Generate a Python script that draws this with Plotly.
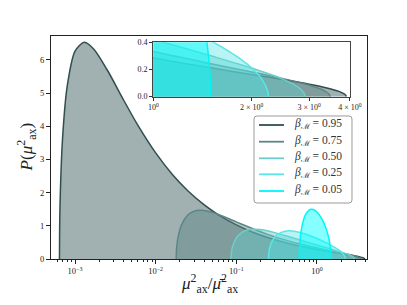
import plotly.graph_objects as go

betas = [0.95, 0.75, 0.50, 0.25, 0.05]
labels = ["0.95", "0.75", "0.50", "0.25", "0.05"]

x_095 = [0.00064115, 0.00065, 0.0007, 0.0008, 0.001, 0.0013, 0.0017, 0.0025, 0.004, 0.006, 0.01, 0.016,
         0.025, 0.04, 0.06, 0.1, 0.16, 0.25, 0.4, 0.6, 1.0, 1.5, 2.0, 2.5, 3.0, 3.4, 3.7, 3.85, 3.89, 3.8994]
y_095 = [0.0, 1.514, 3.625, 5.211, 6.266, 6.531, 6.331, 5.703, 4.791, 4.033, 3.196, 2.557,
         2.059, 1.632, 1.333, 1.0293, 0.8083, 0.6393, 0.4951, 0.3926, 0.2852, 0.2118, 0.1632, 0.1253,
         0.0917, 0.0642, 0.0389, 0.0190, 0.0082, 0.0]

x_075 = [0.017949, 0.0182, 0.019, 0.021, 0.025, 0.03, 0.035, 0.04, 0.05, 0.06, 0.1, 0.16, 0.25, 0.4,
         0.6, 1.0, 1.5, 2.0, 2.5, 3.0, 3.3, 3.45, 3.48205]
y_075 = [0.0, 0.3438, 0.6738, 1.0384, 1.3253, 1.4427, 1.4699, 1.4616, 1.4076, 1.3416, 1.1179, 0.9111,
         0.7351, 0.5757, 0.4581, 0.3313, 0.2425, 0.1819, 0.1325, 0.0848, 0.0497, 0.0204, 0.0]

x_050 = [0.085786, 0.087, 0.09, 0.1, 0.12, 0.15, 0.2, 0.25, 0.3, 0.4, 0.6, 1.0, 1.5, 2.0, 2.5, 2.8,
         2.9, 2.914214]
y_050 = [0.0, 0.2143, 0.3858, 0.6366, 0.8202, 0.8940, 0.8861, 0.8422, 0.7940, 0.7073, 0.5787, 0.4211,
         0.3001, 0.2105, 0.1273, 0.0633, 0.0220, 0.0]

x_025 = [0.25, 0.252, 0.26, 0.28, 0.32, 0.4, 0.5, 0.6, 0.8, 1.0, 1.25, 1.5, 1.8, 2.0, 2.15, 2.24, 2.25]
y_025 = [0.0, 0.1597, 0.3454, 0.5527, 0.7312, 0.8384, 0.8422, 0.8063, 0.7107, 0.6164, 0.5093, 0.4109,
         0.2954, 0.2105, 0.1291, 0.0401, 0.0]

x_005 = [0.602786, 0.604, 0.61, 0.63, 0.67, 0.72, 0.8, 0.85, 0.9, 1.0, 1.1, 1.2, 1.3, 1.4, 1.46, 1.49,
         1.497214]
y_005 = [0.0, 0.1735, 0.4175, 0.7762, 1.1202, 1.3344, 1.4754, 1.4979, 1.4901, 1.4146, 1.2860, 1.1176,
         0.9079, 0.6330, 0.3894, 0.1709, 0.0]

xs = [x_095, x_075, x_050, x_025, x_005]
ys = [y_095, y_075, y_050, y_025, y_005]

line_colors = ["#2f4f4f", "#5c8585", "#6ccfca", "#5ae6e6", "#00f5f5"]
fill_colors = ["rgba(47,79,79,0.45)", "rgba(92,133,133,0.45)", "rgba(95,205,200,0.45)",
               "rgba(80,225,225,0.40)", "rgba(0,255,255,0.48)"]

main_xticks = [1e-3, 1e-2, 1e-1, 1]
main_xticktext = ["10<sup>−3</sup>", "10<sup>−2</sup>", "10<sup>−1</sup>", "10<sup>0</sup>"]
main_yticks = [0, 1, 2, 3, 4, 5, 6]
minor_x = [m * 10.0 ** e for e in range(-4, 1) for m in range(2, 10)]
inset_xticks = [1, 2, 3, 4]
inset_xticktext = ["10<sup>0</sup>", "2 × 10<sup>0</sup>", "3 × 10<sup>0</sup>", "4 × 10<sup>0</sup>"]
inset_yticks = [0.0, 0.2, 0.4]
inset_yticktext = ["0.0", "0.2", "0.4"]

fig = go.Figure()
for ax, ay in (("x", "y"), ("x2", "y2")):
    for i in range(5):
        fig.add_trace(go.Scatter(
            x=xs[i], y=ys[i], mode="lines", fill="tozeroy", fillcolor=fill_colors[i],
            line=dict(color=line_colors[i], width=1.5, shape="spline", smoothing=0.8),
            name="β_M = " + labels[i], showlegend=False, hoverinfo="skip", xaxis=ax, yaxis=ay))

font_family = "Liberation Serif, DejaVu Serif, serif"

# legend box (drawn as shapes/annotations in paper coordinates)
lx0, lx1, ly0, ly1 = 0.6424, 0.9525, 0.2511, 0.6413
rx, ry = 0.0095, 0.0135
legend_path = (f"M {lx0+rx},{ly0} L {lx1-rx},{ly0} Q {lx1},{ly0} {lx1},{ly0+ry} "
               f"L {lx1},{ly1-ry} Q {lx1},{ly1} {lx1-rx},{ly1} L {lx0+rx},{ly1} "
               f"Q {lx0},{ly1} {lx0},{ly1-ry} L {lx0},{ly0+ry} Q {lx0},{ly0} {lx0+rx},{ly0} Z")
row_y = [0.6009, 0.5260, 0.4516, 0.3798, 0.3049]
shapes = [dict(type="path", path=legend_path, xref="paper", yref="paper",
               fillcolor="rgba(255,255,255,0.85)", line=dict(color="#9a9a9a", width=1), layer="above")]
annotations = []
for i in range(5):
    shapes.append(dict(type="line", xref="paper", yref="paper", x0=0.6582, x1=0.7373,
                       y0=row_y[i], y1=row_y[i], line=dict(color=line_colors[i], width=1.8), layer="above"))
    annotations.append(dict(text="<i>β</i><sub>ℳ</sub> = " + labels[i], xref="paper", yref="paper",
                            x=0.762, y=row_y[i] + 0.004, xanchor="left", yanchor="middle", showarrow=False,
                            font=dict(size=11.5, family=font_family, color="#333")))

annotations += [
    dict(text="<i>μ</i><sup>2</sup><sub>ax</sub>/<i>μ̄</i><sup>2</sup><sub>ax</sub>",
         xref="paper", yref="paper", x=0.503, y=-0.11, xanchor="center", yanchor="middle",
         showarrow=False, font=dict(size=17, family=font_family, color="#222")),
    dict(text="<i>P</i>(<i>μ</i><sup>2</sup><sub>ax</sub>)",
         xref="paper", yref="paper", x=-0.078, y=0.502, xanchor="center", yanchor="middle",
         textangle=-90, showarrow=False, font=dict(size=17, family=font_family, color="#222")),
]

fig.update_layout(
    width=407, height=305,
    margin=dict(l=43, r=48, t=28, b=54),
    paper_bgcolor="white", plot_bgcolor="white",
    font=dict(family=font_family, color="#222", size=9),
    showlegend=False,
    xaxis=dict(type="log", range=[-3.298, 0.62], domain=[0, 1], anchor="y", automargin=False,
               tickvals=main_xticks, ticktext=main_xticktext, ticks="outside", ticklen=4,
               tickcolor="#222", showgrid=False, zeroline=False,
               showline=True, linecolor="#222", linewidth=1.2, mirror=True,
               tickfont=dict(size=8.5),
               minor=dict(tickvals=minor_x, ticks="outside", ticklen=2, tickcolor="#222", showgrid=False)),
    yaxis=dict(range=[0, 6.72], domain=[0, 1], anchor="x", automargin=False,
               tickvals=main_yticks, ticks="outside", ticklen=4, tickcolor="#222",
               showgrid=False, zeroline=False,
               showline=True, linecolor="#222", linewidth=1.2, mirror=True,
               tickfont=dict(size=8.5)),
    xaxis2=dict(type="log", range=[0, 0.60206], domain=[0.324, 0.946], anchor="y2", automargin=False,
                tickvals=inset_xticks, ticktext=inset_xticktext, ticks="outside", ticklen=3,
                tickcolor="#333", showgrid=False, zeroline=False,
                showline=True, linecolor="#444", linewidth=1.4, mirror=True,
                tickfont=dict(size=8)),
    yaxis2=dict(range=[0, 0.4], domain=[0.728, 0.972], anchor="x2", automargin=False,
                tickvals=inset_yticks, ticktext=inset_yticktext, ticks="outside", ticklen=3,
                tickcolor="#333", showgrid=False, zeroline=False,
                showline=True, linecolor="#444", linewidth=1.4, mirror=True,
                tickfont=dict(size=8)),
    shapes=shapes,
    annotations=annotations,
)

fig.write_html("out.html")
